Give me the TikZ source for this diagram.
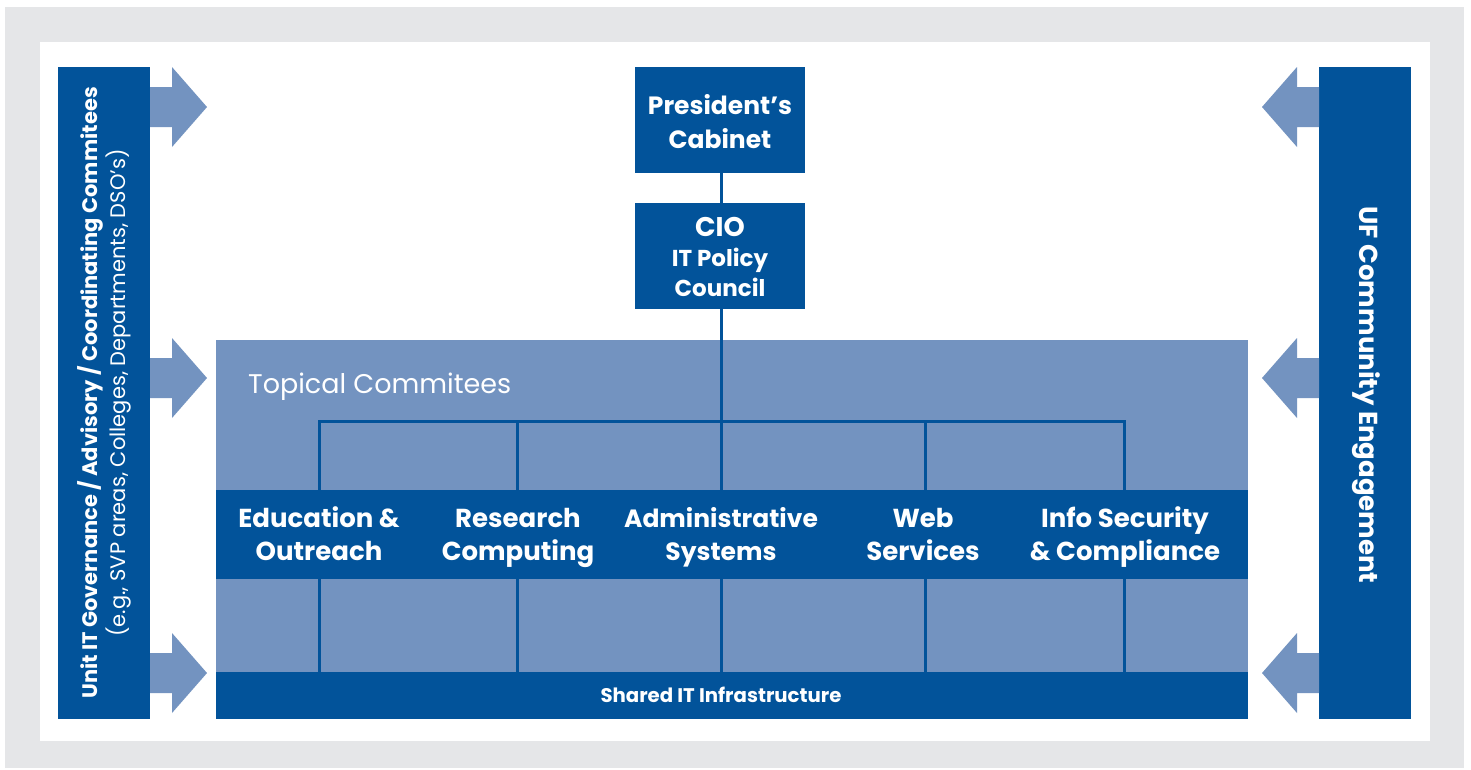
\documentclass[tikz,border=0pt]{standalone}
\usepackage{fontspec}
\setmainfont{Poppins}
\definecolor{dblue}{HTML}{02539A}
\definecolor{lblue}{HTML}{7393C0}
\definecolor{frame}{HTML}{E5E6E8}
\tikzset{
  darkbox/.style={fill=dblue, draw=none, text=white, inner sep=0pt, align=center},
  lightbox/.style={fill=lblue, draw=none, inner sep=0pt},
  label/.style={text=white, inner sep=0pt, align=center},
  conn/.style={draw=dblue, line width=3pt},
  arrowshape/.style={fill=lblue, draw=none},
}
\newcommand{\fs}[2]{\fontsize{#1}{#2}\selectfont}
\begin{document}
\begin{tikzpicture}[x=1pt,y=-1pt]
\useasboundingbox (0,0) rectangle (1471,769);
\fill[frame] (5,7) rectangle (1464,768);
\fill[white] (40,42) rectangle (1430,741);

% side bars
\node[darkbox, minimum width=92pt, minimum height=652pt] (leftbar) at (104,393) {};
\node[darkbox, minimum width=92pt, minimum height=652pt] (rightbar) at (1365,393) {};
\node[label, rotate=90, font=\fs{21}{28}] (lefttext) at (104,393)
  {\bfseries Unit IT Governance / Advisory / Coordinating Commitees\\
   \mdseries (e.g., SVP areas, Colleges, Departments, DSO’s)};
\node[label, rotate=-90, font=\fs{26}{30}\bfseries] (righttext) at (1366,395)
  {UF Community Engagement};

% arrows
\foreach \yc in {107,378,673}{
  \fill[arrowshape] (150,\yc-20) -- (172,\yc-20) -- (172,\yc-40) -- (207,\yc) -- (172,\yc+40) -- (172,\yc+20) -- (150,\yc+20) -- cycle;
  \fill[arrowshape] (1319,\yc-20) -- (1297,\yc-20) -- (1297,\yc-40) -- (1262,\yc) -- (1297,\yc+40) -- (1297,\yc+20) -- (1319,\yc+20) -- cycle;
}

% topical committees area
\node[lightbox, minimum width=1032pt, minimum height=332pt] (topical) at (732,506) {};
\node[label, anchor=base west, font=\fs{27}{32}] (toptext) at (248,393) {Topical Commitees};
\node[darkbox, minimum width=1032pt, minimum height=89pt] (band) at (732,534.5) {};
\node[darkbox, minimum width=1032pt, minimum height=47pt] (shared) at (732,695.5) {};
\node[label, anchor=base, font=\fs{19.7}{22}\bfseries] (sharedtext) at (721,702) {Shared IT Infrastructure};

% top boxes
\node[darkbox, minimum width=170pt, minimum height=106pt] (pres) at (720,120) {};
\node[label, anchor=base, font=\fs{25}{34}\bfseries] (prestext) at (720,148) {President’s\\Cabinet};
\node[darkbox, minimum width=170pt, minimum height=106pt] (cio) at (720,256) {};
\node[label, anchor=base, font=\fs{23}{30}\bfseries] (ciotext) at (720,296)
  {{\fs{27}{30}CIO}\\IT Policy\\Council};

% connectors
\coordinate (hub) at (721,421);
\coordinate (hl) at (319,421);
\coordinate (hr) at (1124,421);
\draw[conn] (pres.south -| hub) -- (cio.north -| hub);
\draw[conn] (cio.south -| hub) -- (hub);
\draw[conn, line cap=rect] (hl) -- (hr);
\foreach \xx in {319,517,721,925,1124}{
  \draw[conn] (\xx,421) -- (\xx,490);
  \draw[conn] (\xx,579) -- (\xx,672);
}

% committee labels
\tikzset{comm/.style={label, anchor=base, font=\fs{26}{33}\bfseries}}
\node[comm] (edu) at (319,560) {Education \&\\Outreach};
\node[comm] (res) at (518,560) {Research\\Computing};
\node[comm, font=\fs{25}{33}\bfseries] (adm) at (721,560) {Administrative\\Systems};
\node[comm] (web) at (923,560) {Web\\Services};
\node[comm] (info) at (1125,560) {Info Security\\\& Compliance};
\end{tikzpicture}
\end{document}
